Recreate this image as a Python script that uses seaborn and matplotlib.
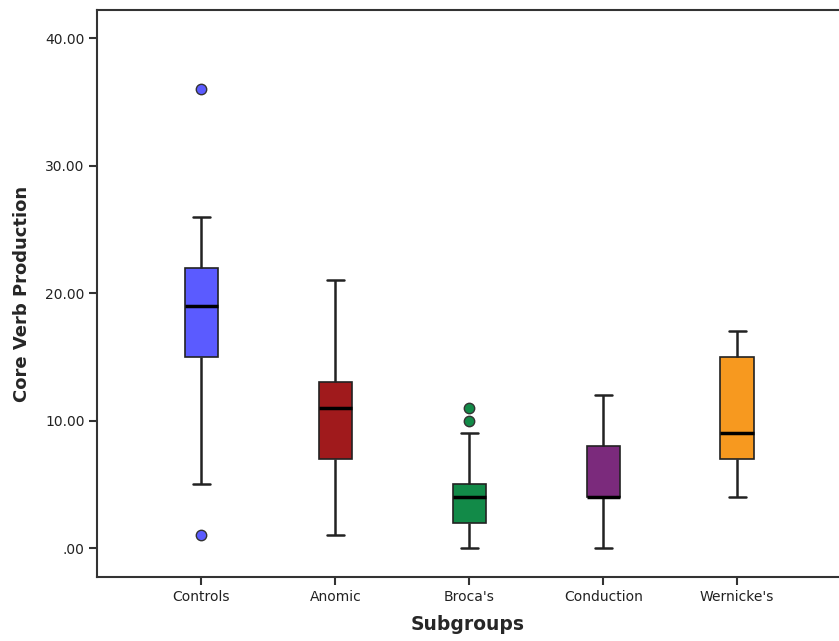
import matplotlib
matplotlib.use("Agg")
import matplotlib.pyplot as plt
import seaborn as sns
import pandas as pd

# subgroup names and raw scores
groups = ["Controls", "Anomic", "Broca's", "Conduction", "Wernicke's"]
controls = [1, 5, 12, 15, 16, 18, 19, 20, 21, 22, 24, 26, 36]
anomic = [1, 3, 5, 7, 8, 10, 11, 12, 12, 13, 15, 18, 21]
brocas = [0, 0, 1, 2, 2, 3, 3, 4, 4, 4, 4, 5, 5, 6, 9, 10, 11]
conduction = [0, 2, 3, 4, 4, 4, 4, 5, 6, 8, 9, 11, 12]
wernickes = [4, 6, 7, 8, 9, 12, 15, 16, 17]
colors = ["#5B5BFF", "#A01A1C", "#128A48", "#7B2A7C", "#F7991F"]
yticks = [0, 10, 20, 30, 40]
yticklabels = [".00", "10.00", "20.00", "30.00", "40.00"]

rows = []
for g, vals in zip(groups, [controls, anomic, brocas, conduction, wernickes]):
    for v in vals:
        rows.append({"Subgroups": g, "score": v})
df = pd.DataFrame(rows)

sns.set_style("white")
plt.rcParams["font.family"] = ["DejaVu Sans"]

fig = plt.figure(figsize=(8.39, 6.41), dpi=100)
ax = fig.add_axes([0.1156, 0.0998, 0.8844, 0.8846])

sns.boxplot(data=df, x="Subgroups", y="score", hue="Subgroups", order=groups,
            hue_order=groups, palette=colors, legend=False, width=0.25,
            linecolor="#222222", linewidth=1.2, saturation=1, ax=ax,
            whiskerprops={"linewidth": 1.8, "color": "#222222"},
            capprops={"linewidth": 1.8, "color": "#222222"},
            medianprops={"linewidth": 2.5, "color": "black"},
            flierprops={"marker": "o", "markersize": 7.5,
                        "markeredgecolor": "#333333", "markeredgewidth": 1})

# color outliers like their box
for cont, c in zip(ax.containers, colors):
    for f in cont.fliers:
        f.set_markerfacecolor(c)

ax.set_xlim(-0.78, 4.76)
ax.set_ylim(-2.27, 42.2)
ax.set_yticks(yticks)
ax.set_yticklabels(yticklabels)

for side in ["left", "bottom", "top"]:
    ax.spines[side].set_linewidth(1.5)
    ax.spines[side].set_color("#333333")
ax.spines["right"].set_visible(False)

ax.tick_params(axis="both", direction="out", length=6, width=1.5,
               color="#333333", labelsize=10, labelcolor="#222222", pad=3,
               left=True, bottom=True)
ax.tick_params(axis="x", pad=3)

ax.set_xlabel("Subgroups", fontsize=13.5, fontweight="bold", labelpad=8.5)
ax.set_ylabel("Core Verb Production", fontsize=13, fontweight="bold", labelpad=10)

fig.savefig("out.png", dpi=100)
